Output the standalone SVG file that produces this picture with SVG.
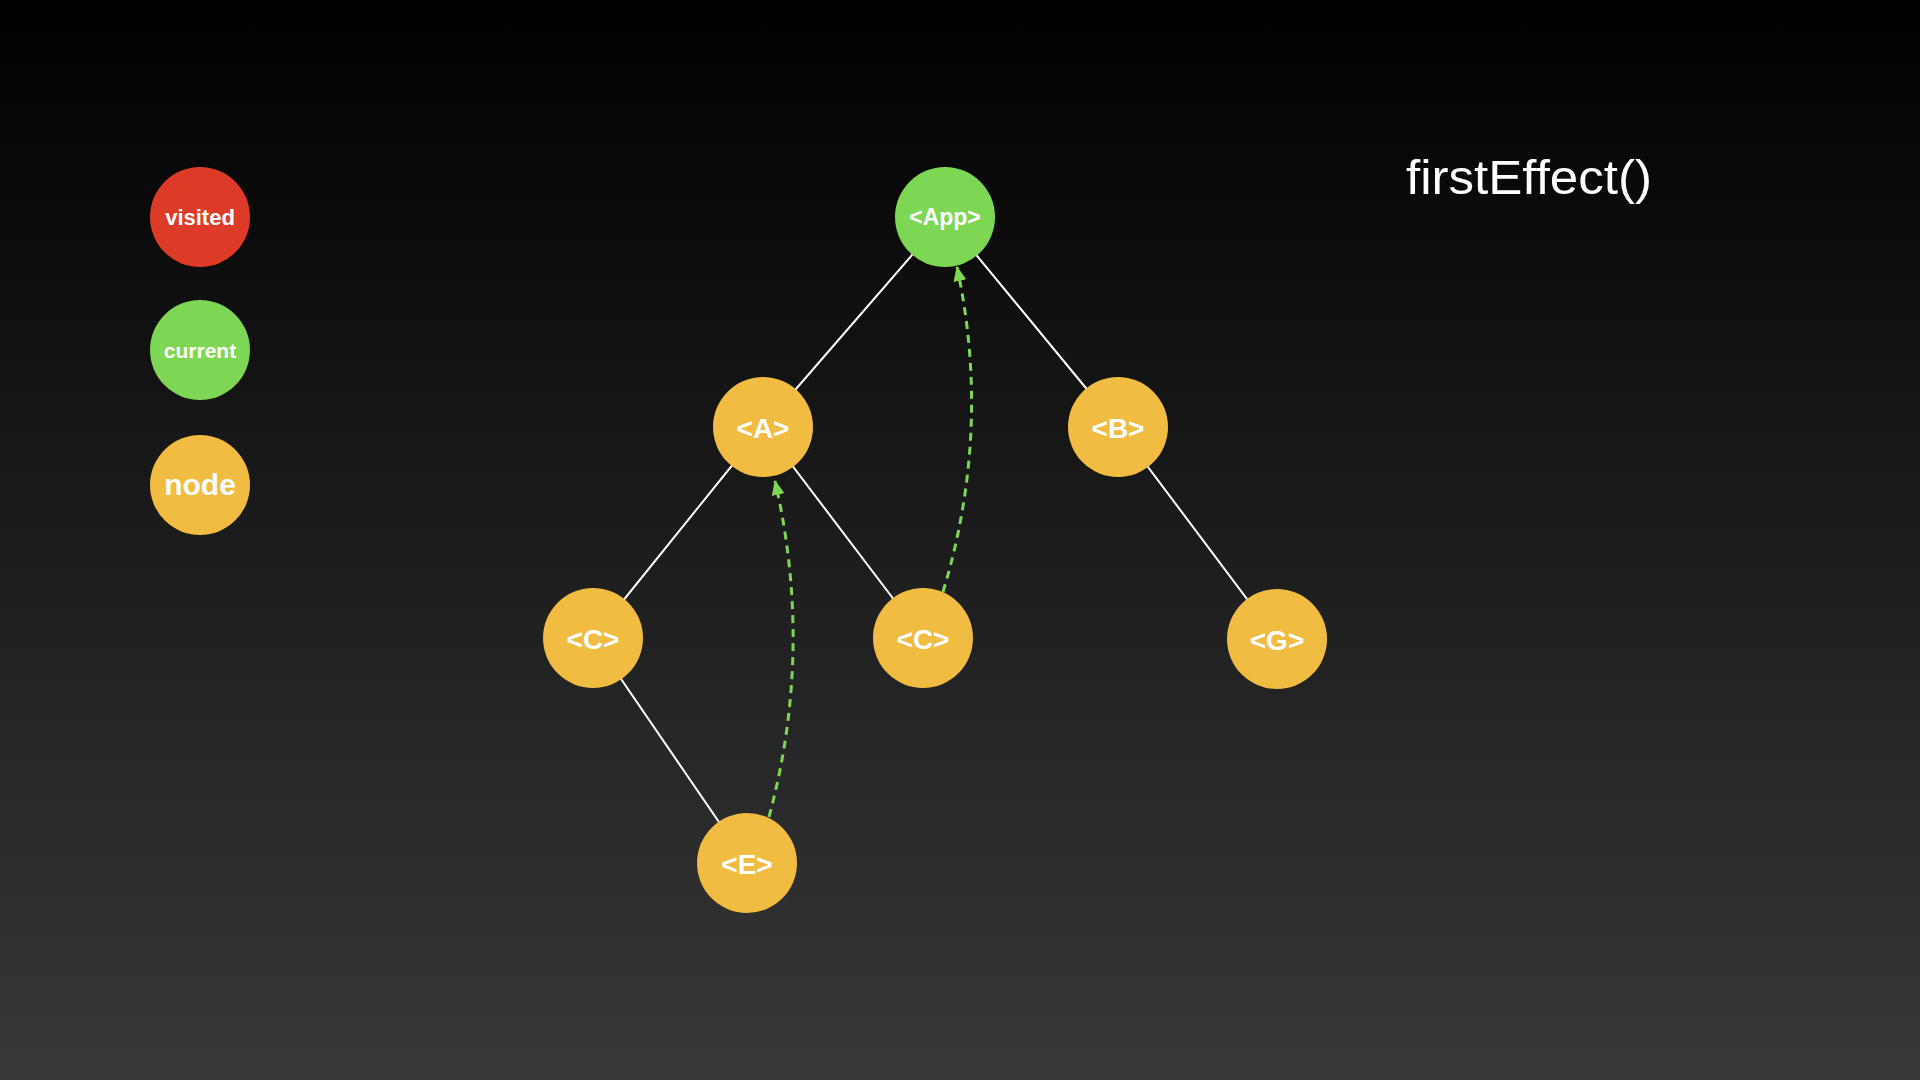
<svg xmlns="http://www.w3.org/2000/svg" width="1920" height="1080" viewBox="0 0 1920 1080">
<defs>
<linearGradient id="bg" x1="0" y1="0" x2="0" y2="1">
<stop offset="0" stop-color="#000000"/>
<stop offset="1" stop-color="#383838"/>
</linearGradient>
<marker id="ah" viewBox="0 0 15 13" refX="14" refY="6.5" markerWidth="15" markerHeight="13" markerUnits="userSpaceOnUse" orient="auto">
<path d="M0,0 L15,6.5 L0,13 Z" fill="#7ED655"/>
</marker>
<style>
.edge{stroke:#FFFFFF;stroke-width:2;fill:none}
.flow{stroke:#7ED655;stroke-width:3;fill:none;stroke-dasharray:8 6}
.node{fill:#F0BC41}
.cur{fill:#7ED655}
.vis{fill:#DD3B27}
.lbl{font-family:"Liberation Sans",Arial,sans-serif;font-weight:bold;fill:#FFFFFF;text-anchor:middle}
.title{font-family:"Liberation Sans",Arial,sans-serif;fill:#FFFFFF;font-size:48px}
</style>
</defs>
<rect x="0" y="0" width="1920" height="1080" fill="url(#bg)"/>

<g id="connectors">
<line class="edge" x1="945" y1="217" x2="763" y2="427"/>
<line class="edge" x1="945" y1="217" x2="1118" y2="427"/>
<line class="edge" x1="763" y1="427" x2="593" y2="638"/>
<line class="edge" x1="763" y1="427" x2="923" y2="638"/>
<line class="edge" x1="593" y1="638" x2="747" y2="863"/>
<line class="edge" x1="1118" y1="427" x2="1277" y2="639"/>
<path class="flow" d="M769,817 Q814,650 775,481" marker-end="url(#ah)"/>
<path class="flow" d="M943,592 Q992,430 957,267" marker-end="url(#ah)"/>
</g>

<g id="legend-visited">
<circle class="vis" cx="200" cy="217" r="50"/>
<text class="lbl" x="200" y="225" font-size="22">visited</text>
</g>
<g id="legend-current">
<circle class="cur" cx="200" cy="350" r="50"/>
<text class="lbl" x="200" y="358" font-size="21">current</text>
</g>
<g id="legend-node">
<circle class="node" cx="200" cy="485" r="50"/>
<text class="lbl" x="200" y="495" font-size="30">node</text>
</g>

<g id="node-app">
<circle class="cur" cx="945" cy="217" r="50"/>
<text class="lbl" x="945" y="225" font-size="23">&lt;App&gt;</text>
</g>
<g id="node-a">
<circle class="node" cx="763" cy="427" r="50"/>
<text class="lbl" x="763" y="438" font-size="28">&lt;A&gt;</text>
</g>
<g id="node-b">
<circle class="node" cx="1118" cy="427" r="50"/>
<text class="lbl" x="1118" y="438" font-size="28">&lt;B&gt;</text>
</g>
<g id="node-c1">
<circle class="node" cx="593" cy="638" r="50"/>
<text class="lbl" x="593" y="649" font-size="28">&lt;C&gt;</text>
</g>
<g id="node-c2">
<circle class="node" cx="923" cy="638" r="50"/>
<text class="lbl" x="923" y="649" font-size="28">&lt;C&gt;</text>
</g>
<g id="node-g">
<circle class="node" cx="1277" cy="639" r="50"/>
<text class="lbl" x="1277" y="650" font-size="28">&lt;G&gt;</text>
</g>
<g id="node-e">
<circle class="node" cx="747" cy="863" r="50"/>
<text class="lbl" x="747" y="874" font-size="28">&lt;E&gt;</text>
</g>

<text class="title" x="1406" y="194" textLength="246" lengthAdjust="spacingAndGlyphs">firstEffect()</text>
</svg>
